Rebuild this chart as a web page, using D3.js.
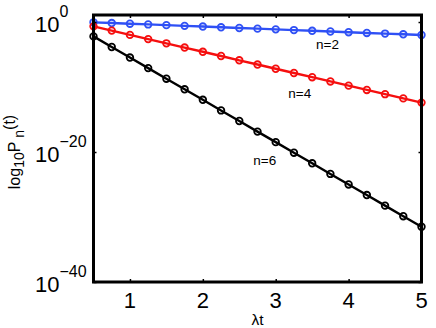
<!DOCTYPE html>
<html>
<head>
<meta charset="utf-8">
<script src="https://cdn.jsdelivr.net/npm/d3@7"></script>
<style>
  html, body { margin: 0; padding: 0; background: #fff; }
  svg { display: block; }
  text { font-family: "Liberation Sans", Arial, Helvetica, sans-serif; fill: #000; }
</style>
</head>
<body>
<svg id="chart" width="436" height="328"></svg>
<script>
// λt values
const tValues = [0.5, 0.75, 1, 1.25, 1.5, 1.75, 2, 2.25, 2.5, 2.75, 3, 3.25, 3.5, 3.75, 4, 4.25, 4.5, 4.75, 5];
// log10 P_n(t)
const logP_n2 = [-0.05, -0.16, -0.26, -0.37, -0.48, -0.59, -0.70, -0.81, -0.92, -1.02, -1.13, -1.24, -1.35, -1.46, -1.57, -1.68, -1.78, -1.89, -2.00];
const logP_n4 = [-0.67, -1.32, -1.98, -2.63, -3.28, -3.93, -4.58, -5.23, -5.89, -6.54, -7.19, -7.84, -8.49, -9.14, -9.79, -10.45, -11.10, -11.75, -12.40];
const logP_n6 = [-2.21, -3.84, -5.47, -7.09, -8.72, -10.35, -11.97, -13.60, -15.23, -16.86, -18.48, -20.11, -21.74, -23.37, -24.99, -26.62, -28.25, -29.88, -31.50];
const seriesNames = ["n=2", "n=4", "n=6"];
const seriesColors = ["#2f50f5", "#f50f0f", "#000000"];
const xTicks = [1, 2, 3, 4, 5];
const yTickExponents = [0, -20, -40];
const xDomain = [0.5, 5];
const yDomainExp = [-40, 1.08];

const svg = d3.select("#chart");
const L = 93.5, R = 421.5, T = 15, B = 282;

const x = d3.scaleLinear().domain(xDomain).range([L, R]);
const y = d3.scaleLog().domain(yDomainExp.map(e => Math.pow(10, e))).range([B, T]);

const series = [logP_n2, logP_n4, logP_n6].map((arr, i) => ({
  name: seriesNames[i],
  color: seriesColors[i],
  pts: arr.map((e, j) => ({ t: tValues[j], p: Math.pow(10, e) }))
}));

const line = d3.line().x(d => x(d.t)).y(d => y(d.p));

const g = svg.append("g");
series.forEach(s => {
  g.append("path").datum(s.pts)
    .attr("d", line).attr("fill", "none")
    .attr("stroke", s.color).attr("stroke-width", 2.4)
    .attr("stroke-linejoin", "round");
  g.selectAll(null).data(s.pts).enter().append("circle")
    .attr("cx", d => x(d.t)).attr("cy", d => y(d.p)).attr("r", 3.3)
    .attr("fill", "none").attr("stroke", s.color).attr("stroke-width", 1.8);
});

// series labels (t, log10 position of baseline)
const labelPos = [{ t: 3.71, e: -4.2 }, { t: 3.33, e: -11.7 }, { t: 2.85, e: -22.0 }];
labelPos.forEach((p, i) => {
  svg.append("text").attr("x", x(p.t)).attr("y", y(Math.pow(10, p.e)))
    .attr("text-anchor", "middle").attr("font-size", 13.5).text(seriesNames[i]);
});

// axes box
svg.append("rect").attr("x", L).attr("y", T).attr("width", R - L).attr("height", B - T)
  .attr("fill", "none").attr("stroke", "#000").attr("stroke-width", 3);

// ticks (inward, mirrored)
const tickStyle = a => { a.select(".domain").remove(); a.selectAll("line").attr("stroke-width", 1.5); };
svg.append("g").attr("transform", `translate(0,${B})`).call(d3.axisBottom(x).tickValues(xTicks).tickSize(-3).tickFormat("")).call(tickStyle);
svg.append("g").attr("transform", `translate(0,${T})`).call(d3.axisTop(x).tickValues(xTicks).tickSize(-3).tickFormat("")).call(tickStyle);
const yTickVals = yTickExponents.map(e => Math.pow(10, e));
svg.append("g").attr("transform", `translate(${L},0)`).call(d3.axisLeft(y).tickValues(yTickVals).tickSize(-3).tickFormat("")).call(tickStyle);
svg.append("g").attr("transform", `translate(${R},0)`).call(d3.axisRight(y).tickValues(yTickVals).tickSize(-3).tickFormat("")).call(tickStyle);

// x tick labels
svg.selectAll(null).data(xTicks).enter().append("text")
  .attr("x", d => x(d)).attr("y", 308)
  .attr("text-anchor", "middle").attr("font-size", 22).text(d => d);

// y tick labels
yTickExponents.forEach(e => {
  const ty = y(Math.pow(10, e));
  const t = svg.append("text").attr("x", 35).attr("y", ty + 10).attr("font-size", 22);
  t.append("tspan").text("10");
  t.append("tspan").attr("dy", -15).attr("font-size", 16).text(e === 0 ? "0" : "\u2212" + Math.abs(e));
});

// x label
svg.append("text").attr("x", (L + R) / 2).attr("y", 325)
  .attr("text-anchor", "middle").attr("font-size", 15.5).text("\u03BBt");

// y label
const yl = svg.append("text").attr("transform", "translate(20,152) rotate(-90)")
  .attr("text-anchor", "middle").attr("font-size", 16);
yl.append("tspan").text("log");
yl.append("tspan").attr("dy", 4).attr("font-size", 14).text("10");
yl.append("tspan").attr("dy", -4).text("P");
yl.append("tspan").attr("dy", 4).attr("font-size", 14).text(" n");
yl.append("tspan").attr("dy", -9).text("(t)");
</script>
</body>
</html>
